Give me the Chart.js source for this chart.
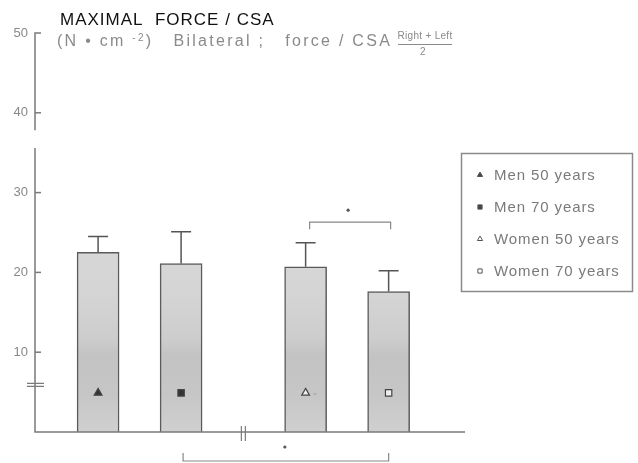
<!DOCTYPE html>
<html>
<head>
<meta charset="utf-8">
<script src="https://cdn.jsdelivr.net/npm/chart.js@4.4.1/dist/chart.umd.min.js"></script>
<style>
  html, body { margin: 0; padding: 0; background: #fff; }
  #wrap { width: 638px; height: 463px; position: relative; }
</style>
</head>
<body>
<div id="wrap"><canvas id="c" width="638" height="463"></canvas></div>
<script>
// Groups and their slot on the horizontal axis (men and women separated by an axis break)
const groups = ['Men 50 years', 'Men 70 years', 'Women 50 years', 'Women 70 years'];
const slots = [1, 2, 3.5, 4.5];
// Maximal force per cross-sectional area, N·cm⁻² (mean and SD)
const meanForce = [22.5, 21.1, 20.7, 17.6];
const sdForce = [2.0, 4.0, 3.0, 2.6];
// Group symbols drawn inside each bar
const markerLevel = [4.9, 4.9, 4.9, 4.9];
const markerStyles = ['triangle', 'rect', 'triangle', 'rect'];
const markerFilled = [true, true, false, false];
// Value axis ticks
const yTicks = [10, 20, 30, 40, 50];

const AXIS = '#7a7a7a';
const INK = '#555';
const FONT = '"Liberation Sans", Arial, sans-serif';

function barGradient(ctx) {
  const chart = ctx.chart;
  const area = chart.chartArea;
  if (!area) return '#cfcfcf';
  const y = chart.scales.y;
  const g = chart.ctx.createLinearGradient(0, y.getPixelForValue(26), 0, y.getPixelForValue(0));
  g.addColorStop(0.00, '#d9d9d9');
  g.addColorStop(0.35, '#d4d4d4');
  g.addColorStop(0.55, '#cdcdcd');
  g.addColorStop(0.63, '#c3c3c3');
  g.addColorStop(0.82, '#c6c6c6');
  g.addColorStop(1.00, '#d0d0d0');
  return g;
}

function legendMarker(ctx, i, x, y) {
  ctx.save();
  ctx.strokeStyle = '#555';
  ctx.fillStyle = markerFilled[i] ? '#444' : '#fff';
  ctx.lineWidth = 1;
  Chart.helpers.drawPoint(ctx, { pointStyle: markerStyles[i], radius: 3, rotation: 0, borderWidth: 1 }, x, y);
  ctx.restore();
}

const decorations = {
  id: 'decorations',
  afterDatasetsDraw(chart) {
    const ctx = chart.ctx;
    const xs = chart.scales.x, ys = chart.scales.y;
    const area = chart.chartArea;
    const x0 = area.left, yBase = ys.getPixelForValue(0);
    ctx.save();

    // error bars (upper whisker only)
    ctx.strokeStyle = INK;
    ctx.lineWidth = 1.5;
    meanForce.forEach((m, i) => {
      const px = xs.getPixelForValue(slots[i]);
      const top = ys.getPixelForValue(m);
      const tip = ys.getPixelForValue(m + sdForce[i]);
      ctx.beginPath();
      ctx.moveTo(px, top); ctx.lineTo(px, tip);
      ctx.moveTo(px - 10, tip); ctx.lineTo(px + 10, tip);
      ctx.stroke();
    });

    // value axis with a break between 30 and 40
    ctx.strokeStyle = AXIS;
    ctx.lineWidth = 1.5;
    const yTop = ys.getPixelForValue(50);
    ctx.beginPath();
    ctx.moveTo(x0 + 6, yTop); ctx.lineTo(x0, yTop);
    ctx.lineTo(x0, ys.getPixelForValue(37.8));
    ctx.moveTo(x0, ys.getPixelForValue(35.6));
    ctx.lineTo(x0, yBase);
    ctx.lineTo(area.right, yBase);
    ctx.stroke();
    yTicks.slice(0, 4).forEach(v => {
      const py = ys.getPixelForValue(v);
      ctx.beginPath(); ctx.moveTo(x0, py); ctx.lineTo(x0 + 6, py); ctx.stroke();
    });
    // break marks on both axes
    const yb = ys.getPixelForValue(5.9);
    ctx.lineWidth = 1.2;
    ctx.beginPath();
    ctx.moveTo(x0 - 8, yb - 1.5); ctx.lineTo(x0 + 9, yb - 1.5);
    ctx.moveTo(x0 - 8, yb + 1.5); ctx.lineTo(x0 + 9, yb + 1.5);
    const xb = xs.getPixelForValue(2.75);
    ctx.moveTo(xb - 2, yBase - 6); ctx.lineTo(xb - 2, yBase + 9);
    ctx.moveTo(xb + 2, yBase - 6); ctx.lineTo(xb + 2, yBase + 9);
    ctx.stroke();

    // small dash beside the open triangle
    ctx.strokeStyle = '#999';
    ctx.lineWidth = 1;
    const tx = xs.getPixelForValue(slots[2]), ty = ys.getPixelForValue(markerLevel[2]);
    ctx.beginPath(); ctx.moveTo(tx + 8, ty + 1); ctx.lineTo(tx + 11, ty + 1); ctx.stroke();

    // significance brackets
    ctx.strokeStyle = '#888';
    ctx.lineWidth = 1.2;
    const w50 = xs.getPixelForValue(slots[2]), w70 = xs.getPixelForValue(slots[3]);
    const m70 = xs.getPixelForValue(slots[1]);
    const bt = ys.getPixelForValue(26.3);
    ctx.beginPath();
    ctx.moveTo(w50 + 4, bt + 7); ctx.lineTo(w50 + 4, bt); ctx.lineTo(w70 + 2, bt); ctx.lineTo(w70 + 2, bt + 7);
    ctx.stroke();
    const bb = yBase + 29;
    ctx.beginPath();
    ctx.moveTo(m70 + 2, bb - 8); ctx.lineTo(m70 + 2, bb); ctx.lineTo(w70, bb); ctx.lineTo(w70, bb - 8);
    ctx.stroke();
    ctx.fillStyle = '#555';
    ctx.beginPath(); ctx.arc((w50 + w70) / 2 + 1, bt - 12, 1.6, 0, Math.PI * 2); ctx.fill();
    ctx.beginPath(); ctx.arc(xs.getPixelForValue(3.25), yBase + 15, 1.6, 0, Math.PI * 2); ctx.fill();

    // title
    ctx.textBaseline = 'alphabetic';
    ctx.textAlign = 'left';
    ctx.fillStyle = '#111';
    ctx.font = '17px ' + FONT;
    ctx.letterSpacing = '1px';
    ctx.fillText('MAXIMAL  FORCE / CSA', 60, 25);

    // units line, stretched to run up to the fraction
    ctx.fillStyle = '#8a8a8a';
    const pieces = [
      ['(N \u2022 cm ', 16, 0],
      ['-2', 10, -5],
      [')   Bilateral ;   force / CSA', 16, 0]
    ];
    ctx.letterSpacing = '0px';
    let natural = 0, nChars = 0;
    pieces.forEach(([t, s]) => { ctx.font = s + 'px ' + FONT; natural += ctx.measureText(t).width; nChars += t.length; });
    const ls = Math.max(0, (392 - 57 - natural) / nChars);
    ctx.letterSpacing = ls.toFixed(2) + 'px';
    let cx = 57;
    pieces.forEach(([t, s, dy]) => {
      ctx.font = s + 'px ' + FONT;
      ctx.fillText(t, cx, 46 + dy);
      cx += ctx.measureText(t).width;
    });
    ctx.letterSpacing = '0.3px';
    ctx.font = '10px ' + FONT;
    ctx.textAlign = 'center';
    ctx.fillText('Right + Left', 425, 39);
    ctx.fillText('2', 423, 55);
    ctx.lineWidth = 1;
    ctx.strokeStyle = '#8a8a8a';
    ctx.beginPath(); ctx.moveTo(398, 44.5); ctx.lineTo(452, 44.5); ctx.stroke();

    // legend
    ctx.letterSpacing = '0.9px';
    ctx.strokeStyle = '#8a8a8a';
    ctx.lineWidth = 1.5;
    ctx.strokeRect(461.5, 153.5, 171, 138);
    ctx.textAlign = 'left';
    ctx.textBaseline = 'middle';
    ctx.font = '15px ' + FONT;
    groups.forEach((g, i) => {
      const ry = 176 + i * 32;
      legendMarker(ctx, i, 480, ry - 1);
      ctx.fillStyle = '#7a7a7a';
      ctx.fillText(g, 494, ry);
    });
    ctx.restore();
  }
};

new Chart(document.getElementById('c'), {
  type: 'bar',
  data: {
    datasets: [
      {
        type: 'line',
        label: 'symbols',
        data: slots.map((s, i) => ({ x: s, y: markerLevel[i] })),
        showLine: false,
        pointStyle: markerStyles,
        pointRadius: 4.5,
        pointBorderWidth: 1.2,
        pointBorderColor: '#444',
        pointBackgroundColor: markerFilled.map(f => f ? '#333' : '#eee'),
        order: 0
      },
      {
        label: 'Force / CSA',
        data: slots.map((s, i) => ({ x: s, y: meanForce[i] })),
        backgroundColor: barGradient,
        borderColor: '#5a5a5a',
        borderWidth: 1.5,
        borderSkipped: 'bottom',
        barThickness: 42,
        order: 1
      }
    ]
  },
  options: {
    responsive: false,
    animation: false,
    events: [],
    layout: { padding: { left: 0, right: 173, top: 33, bottom: 31 } },
    plugins: { legend: { display: false }, tooltip: { enabled: false } },
    scales: {
      x: { type: 'linear', min: 0.24, max: 5.42, offset: false, display: false },
      y: {
        min: 0, max: 50,
        afterFit(s) { s.width = 35; },
        afterBuildTicks(s) { s.ticks = yTicks.map(v => ({ value: v })); },
        grid: { display: false, drawTicks: false },
        border: { display: false },
        ticks: {
          padding: 7,
          color: '#888',
          font: { family: FONT, size: 13 }
        }
      }
    }
  },
  plugins: [decorations]
});
</script>
</body>
</html>
